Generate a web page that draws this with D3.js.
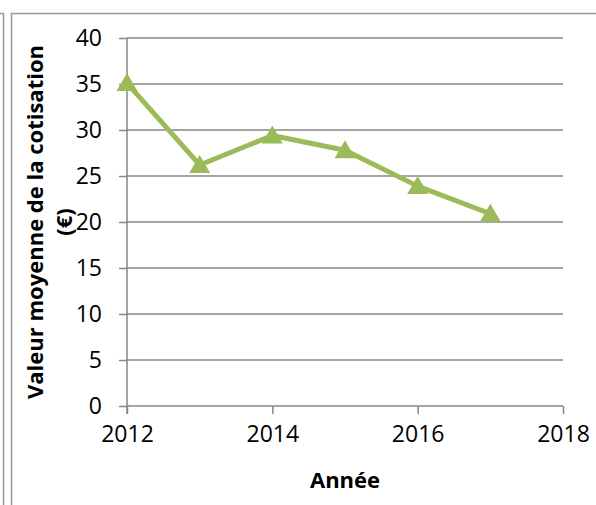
<!DOCTYPE html>
<html>
<head>
<meta charset="utf-8">
<script src="https://cdn.jsdelivr.net/npm/d3@7"></script>
<style>
  body { margin: 0; background: #fff; }
  svg { display: block; }
</style>
</head>
<body>
<div id="chart"></div>
<script>
// values
const years = [2012, 2013, 2014, 2015, 2016, 2017];
const cotisation = [35.1, 26.2, 29.4, 27.8, 23.9, 20.9];
const xTicks = [2012, 2014, 2016, 2018];
const yTicks = [0, 5, 10, 15, 20, 25, 30, 35, 40];

const W = 596, H = 505;
const margin = {top: 38, right: 33, bottom: 99, left: 127},
    width = W - margin.left - margin.right,
    height = H - margin.top - margin.bottom;

const green = '#9bbb59', grey = '#868686';

const root = d3.select('#chart').append('svg')
    .attr('width', W)
    .attr('height', H);

// chart frames (cropped)
root.append('path')
  .attr('d', 'M0,13.5H3.5V505')
  .attr('fill', 'none')
  .attr('stroke', '#999')
  .attr('stroke-width', 1.5);
root.append('path')
  .attr('d', 'M11.5,505V13.5H596')
  .attr('fill', 'none')
  .attr('stroke', '#999')
  .attr('stroke-width', 1.5);

const svg = root.append('g')
    .attr('transform', 'translate(' + margin.left + ',' + margin.top + ')');

let x = d3.scaleLinear()
  .domain([2012, 2018])
  .range([0, width]);

let y = d3.scaleLinear()
  .domain([0, 40])
  .range([height, 0]);

// horizontal grid lines
svg.append('g')
  .selectAll('line')
  .data(yTicks.filter(d => d > 0))
  .enter()
  .append('line')
  .attr('x1', 0).attr('x2', width)
  .attr('y1', d => y(d)).attr('y2', d => y(d))
  .attr('stroke', grey)
  .attr('stroke-width', 1.5);

// Y axis
const yAxis = svg.append('g')
  .call(d3.axisLeft(y).tickValues(yTicks).tickSize(8).tickPadding(17));
// X axis
const xAxis = svg.append('g')
  .attr('transform', 'translate(0,' + height + ')')
  .call(d3.axisBottom(x).tickValues(xTicks).tickFormat(d3.format('d')).tickSize(8).tickPadding(12));

[xAxis, yAxis].forEach(a => {
  a.select('.domain').attr('stroke', grey).attr('stroke-width', 1.5);
  a.selectAll('.tick line').attr('stroke', grey).attr('stroke-width', 1.5);
  a.selectAll('.tick text')
    .attr('fill', '#000')
    .style('font-family', '"Open Sans", sans-serif')
    .style('font-size', '23px');
});
yAxis.select('.domain').attr('d', 'M0,' + (height + 8) + 'V0');
xAxis.select('.domain').attr('d', 'M0,0H' + width);

// series line
var lineGenerator = d3.line()
  .x((d, i) => x(years[i]))
  .y(d => y(d));

svg.append('path')
  .datum(cotisation)
  .attr('d', lineGenerator)
  .attr('fill', 'none')
  .attr('stroke', green)
  .attr('stroke-width', 5)
  .attr('stroke-linejoin', 'round');

// triangle markers
svg.append('g')
  .selectAll('path')
  .data(cotisation)
  .enter()
  .append('path')
  .attr('d', 'M0,-10L10.5,8L-10.5,8Z')
  .attr('transform', (d, i) => 'translate(' + x(years[i]) + ',' + y(d) + ')')
  .attr('fill', green);

// axis titles
root.append('text')
  .attr('x', margin.left + width / 2)
  .attr('y', 488)
  .attr('text-anchor', 'middle')
  .style('font-family', '"Open Sans", sans-serif')
  .style('font-size', '22px')
  .style('font-weight', 'bold')
  .text('Année');

const yTitle = root.append('text')
  .attr('transform', 'translate(0,' + (margin.top + height / 2) + ') rotate(-90)')
  .attr('text-anchor', 'middle')
  .style('font-family', '"Open Sans", sans-serif')
  .style('font-size', '22px')
  .style('font-weight', 'bold');
yTitle.append('tspan').attr('x', 0).attr('y', 43).text('Valeur moyenne de la cotisation');
yTitle.append('tspan').attr('x', 0).attr('y', 72).text('(€)');
</script>
</body>
</html>
